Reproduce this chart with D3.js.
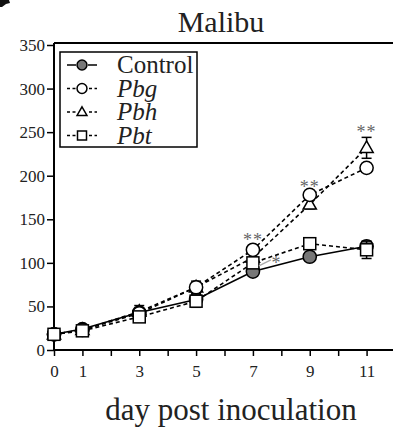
<!DOCTYPE html>
<html lang="en">
<head>
<meta charset="UTF-8">
<title>Malibu</title>
<script src="https://d3js.org/d3.v7.min.js"></script>
<style>
  html, body { margin: 0; padding: 0; background: #fff; }
  svg { display: block; }
  svg text { font-family: "Liberation Serif", "DejaVu Serif", serif; }
</style>
</head>
<body>
<svg id="chart" width="393" height="432"></svg>
<script>
// days post inoculation
const days = [0, 1, 3, 5, 7, 9, 11];
const xTickLabels = [0, 1, 3, 5, 7, 9, 11];
const yTicks = [0, 50, 100, 150, 200, 250, 300, 350];

// series means and SE
const control = [18, 24, 43, 58, 90, 107, 119];
const controlErr = [1, 2, 3, 4, 5, 3, 5];
const pbg = [18, 23, 42, 72, 115, 178, 209];
const pbgErr = [1, 2, 4, 5, 5, 5, 5];
const pbh = [18, 23, 44, 72, 106, 167, 232];
const pbhErr = [1, 2, 7, 7, 5, 5, 12];
const pbt = [18, 22, 38, 56, 100, 122, 115];
const pbtErr = [1, 2, 3, 7, 6, 4, 10];

// significance marks: [day, value at centre of mark, label]
const stars = [[7, 130, "**"], [9, 191, "**"], [11, 254, "**"]];

const FONT = "Liberation Serif";
const svg = d3.select("#chart");
const x = d3.scaleLinear().domain([0, 12]).range([54, 395]);
const y = d3.scaleLinear().domain([0, 350]).range([350, 45]);

// odd little arrow cut off in the corner
svg.append("path").attr("d", "M0,0 L9,0 L10,3 L6,4 L2,7 L0,7 Z").attr("fill", "#111");

// frame: top line + axes
svg.append("line").attr("x1", 54).attr("x2", 393).attr("y1", 43).attr("y2", 43)
  .attr("stroke", "#000").attr("stroke-width", 2);

const xAxis = svg.append("g").attr("transform", `translate(0,${y(0)})`)
  .call(d3.axisBottom(x).tickValues(d3.range(0, 13)).tickSize(6)
    .tickFormat(d => xTickLabels.includes(d) ? d : ""));
xAxis.attr("font-family", FONT);
xAxis.select(".domain").attr("d", `M${x(0)},0H393`).attr("stroke-width", 2);
xAxis.selectAll(".tick line").attr("stroke-width", 1.5);
xAxis.selectAll("text").attr("font-size", 17).attr("font-family", FONT).attr("dy", "1.05em").attr("fill", "#222");

const yAxis = svg.append("g").attr("transform", `translate(${x(0)},0)`)
  .call(d3.axisLeft(y).tickValues(yTicks).tickSize(7).tickPadding(2));
yAxis.attr("font-family", FONT);
yAxis.select(".domain").attr("d", `M0,${y(0)}V43`).attr("stroke-width", 2);
yAxis.selectAll(".tick line").attr("stroke-width", 1.5);
yAxis.selectAll("text").attr("font-size", 17).attr("font-family", FONT).attr("fill", "#222");

// title and x label
svg.append("text").attr("x", 221).attr("y", 32).attr("text-anchor", "middle")
  .attr("font-family", FONT).attr("font-size", 30).attr("fill", "#222").text("Malibu");
svg.append("text").attr("x", 231).attr("y", 420).attr("text-anchor", "middle")
  .attr("font-family", FONT).attr("font-size", 31).attr("fill", "#222").text("day post inoculation");

const series = [
  { name: "Control", vals: control, err: controlErr, shape: "circle", fill: "#777", dash: null },
  { name: "Pbh", vals: pbh, err: pbhErr, shape: "triangle", fill: "#fff", dash: "4,3" },
  { name: "Pbg", vals: pbg, err: pbgErr, shape: "circle", fill: "#fff", dash: "4,3" },
  { name: "Pbt", vals: pbt, err: pbtErr, shape: "square", fill: "#fff", dash: "4,3" }
];

function marker(g, shape, fill, size) {
  if (shape === "circle") {
    g.append("circle").attr("r", size * 0.55).attr("fill", fill).attr("stroke", "#000").attr("stroke-width", 1.5);
  } else if (shape === "square") {
    const s = size;
    g.append("rect").attr("x", -s / 2).attr("y", -s / 2).attr("width", s).attr("height", s)
      .attr("fill", fill).attr("stroke", "#000").attr("stroke-width", 1.5);
  } else {
    const s = size * 0.55;
    g.append("path").attr("d", `M0,${-s * 1.05}L${s},${s * 0.7}L${-s},${s * 0.7}Z`)
      .attr("fill", fill).attr("stroke", "#000").attr("stroke-width", 1.5);
  }
}

const line = d3.line().x(d => x(d[0])).y(d => y(d[1]));

series.forEach(s => {
  const pts = days.map((d, i) => [d, s.vals[i], s.err[i]]);
  svg.append("path").datum(pts).attr("d", line).attr("fill", "none")
    .attr("stroke", "#000").attr("stroke-width", 1.6)
    .attr("stroke-dasharray", s.dash);
});

series.forEach(s => {
  const pts = days.map((d, i) => [d, s.vals[i], s.err[i]]);
  const g = svg.append("g");
  pts.forEach(p => {
    const cx = x(p[0]);
    const eb = g.append("g").attr("stroke", "#000").attr("stroke-width", 1.5);
    eb.append("line").attr("x1", cx).attr("x2", cx).attr("y1", y(p[1] - p[2])).attr("y2", y(p[1] + p[2]));
    [p[1] - p[2], p[1] + p[2]].forEach(v => {
      eb.append("line").attr("x1", cx - 5).attr("x2", cx + 5).attr("y1", y(v)).attr("y2", y(v));
    });
    marker(g.append("g").attr("transform", `translate(${cx},${y(p[1])})`), s.shape, s.fill, 12);
  });
});

// significance asterisks
stars.forEach(st => {
  svg.append("text").attr("x", x(st[0])).attr("y", y(st[1]) + 9).attr("text-anchor", "middle")
    .attr("font-family", FONT).attr("font-size", 18).attr("fill", "#666").attr("letter-spacing", 1).text(st[2]);
});
// single star for Pbt at day 7 with pointer line
const p7 = pbt[days.indexOf(7)];
svg.append("line").attr("x1", x(7) + 6).attr("y1", y(p7) + 3).attr("x2", x(7) + 18).attr("y2", y(p7) - 3)
  .attr("stroke", "#aaa").attr("stroke-width", 1.2);
svg.append("text").attr("x", x(7) + 23).attr("y", y(p7) + 6).attr("text-anchor", "middle")
  .attr("font-family", FONT).attr("font-size", 18).attr("fill", "#666").text("*");

// legend
const leg = svg.append("g");
leg.append("rect").attr("x", 60).attr("y", 52).attr("width", 137).attr("height", 95)
  .attr("fill", "#fff").attr("stroke", "#000").attr("stroke-width", 1.5);
const legItems = [series[0], series[2], series[1], series[3]];
legItems.forEach((s, i) => {
  const ly = 65 + i * 23.5;
  leg.append("line").attr("x1", 67).attr("x2", 97).attr("y1", ly).attr("y2", ly)
    .attr("stroke", "#000").attr("stroke-width", 1.5).attr("stroke-dasharray", s.dash ? "3,2.5" : null);
  const mg = leg.append("g").attr("transform", `translate(82,${ly})`);
  mg.append("rect").attr("x", -6).attr("y", -6).attr("width", 12).attr("height", 12).attr("fill", "#fff");
  marker(mg, s.shape, s.fill, 9);
  leg.append("text").attr("x", 117).attr("y", ly + 8).attr("font-family", FONT).attr("font-size", 25).attr("fill", "#222")
    .attr("font-style", s.name === "Control" ? "normal" : "italic").text(s.name);
});
</script>
</body>
</html>
